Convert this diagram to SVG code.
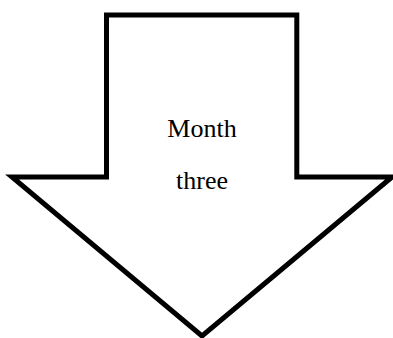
<svg xmlns="http://www.w3.org/2000/svg" width="393" height="338" viewBox="0 0 393 338">
<style>
.shape{fill:#fff;stroke:#000;stroke-width:5;stroke-linejoin:miter;stroke-miterlimit:10}
.lbl{font-family:"Liberation Serif","DejaVu Serif",serif;font-size:26px;fill:#000;text-anchor:middle}
</style>
<rect width="393" height="338" fill="#fff"/>
<g id="arrow">
<polygon class="shape" points="106.5,15 296.8,15 296.8,177 392,177 202,336 12,177 106.5,177"/>
<text class="lbl" x="202" y="137">Month</text>
<text class="lbl" x="202" y="189">three</text>
</g>
</svg>
